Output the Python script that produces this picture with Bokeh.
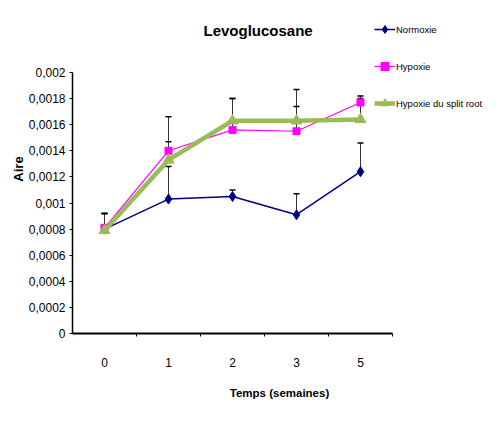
from bokeh.plotting import figure
from bokeh.models import (Range1d, FixedTicker, CustomJSTickFormatter, Legend, LegendItem,
                          Whisker, TeeHead, ColumnDataSource, Label)
from bokeh.embed import file_html
from bokeh.resources import INLINE

weeks = ["0", "1", "2", "3", "5"]
normoxie = [0.00080, 0.00103, 0.00105, 0.00091, 0.00124]
normoxie_err = [0.00012, 0.00025, 0.00005, 0.00016, 0.00022]
hypoxie = [0.00081, 0.00140, 0.00156, 0.00155, 0.00177]
hypoxie_err = [0.00011, 0.00026, 0.00024, 0.00032, 0.00005]
split_root = [0.00079, 0.00133, 0.00163, 0.00163, 0.00164]
split_root_err = [0.00013, 0.00014, 0.00017, 0.00011, 0.00016]
y_ticks = [0, 0.0002, 0.0004, 0.0006, 0.0008, 0.001, 0.0012, 0.0014, 0.0016, 0.0018, 0.002]
y_max = 0.002

FONT = "Liberation Sans"

n = len(weeks)
xs = [i + 0.5 for i in range(n)]

# frame is larger than the axes so that title and legend sit inside it
FW, FH = 414, 329          # frame size in px
AX_W, AX_H = 320, 261      # drawn axes size in px
p = figure(frame_width=FW, frame_height=FH, min_border_left=72, min_border_right=0,
           min_border_top=4, min_border_bottom=83, output_backend="svg",
           toolbar_location=None,
           x_range=Range1d(0, n * FW / AX_W), y_range=Range1d(0, y_max * FH / AX_H))
p.outline_line_color = None
p.grid.visible = False
p.background_fill_color = "white"
p.border_fill_color = "white"

# x axis
p.xaxis.bounds = (0, n)
p.xaxis.ticker = FixedTicker(ticks=xs, minor_ticks=[i + 1 for i in range(n)])
p.xaxis.major_label_overrides = {x: w for x, w in zip(xs, weeks)}
p.xaxis.major_tick_line_color = None
p.xaxis.major_tick_out = 0
p.xaxis.major_tick_in = 0
p.xaxis.minor_tick_line_color = "black"
p.xaxis.minor_tick_out = 3
p.xaxis.minor_tick_in = 0
p.xaxis.axis_line_width = 2
p.xaxis.axis_line_color = "black"
p.xaxis.major_label_standoff = 21
p.xaxis.major_label_text_font = FONT
p.xaxis.major_label_text_font_size = "12px"
p.xaxis.major_label_text_color = "black"
p.xaxis.axis_label = "Temps (semaines)"
p.xaxis.axis_label_text_font = FONT
p.xaxis.axis_label_text_font_style = "bold"
p.xaxis.axis_label_text_font_size = "11.5px"
p.xaxis.axis_label_text_color = "black"
p.xaxis.axis_label_standoff = 17

# y axis
p.yaxis.bounds = (0, y_max)
p.yaxis.ticker = FixedTicker(ticks=y_ticks)
p.yaxis.formatter = CustomJSTickFormatter(code="return tick.toString().replace('.', ',');")
p.yaxis.major_tick_out = 3
p.yaxis.major_tick_in = 0
p.yaxis.minor_tick_line_color = None
p.yaxis.axis_line_color = "black"
p.yaxis.axis_line_width = 1.5
p.yaxis.major_label_standoff = 4
p.yaxis.major_label_text_font = FONT
p.yaxis.major_label_text_font_size = "12px"
p.yaxis.major_label_text_color = "black"
p.yaxis.axis_label = "Aire"
p.yaxis.axis_label_text_font = FONT
p.yaxis.axis_label_text_font_style = "bold"
p.yaxis.axis_label_text_font_size = "13px"
p.yaxis.axis_label_text_color = "black"
p.yaxis.axis_label_standoff = 0

# error bars
for vals, errs in [(normoxie, normoxie_err), (hypoxie, hypoxie_err), (split_root, split_root_err)]:
    src = ColumnDataSource(dict(x=xs, lower=vals, upper=[v + e for v, e in zip(vals, errs)]))
    w = Whisker(base="x", lower="lower", upper="upper", source=src, level="underlay",
                line_color="#333333", line_width=1,
                upper_head=TeeHead(size=6, line_color="black", line_width=1.5),
                lower_head=None)
    p.add_layout(w)

l1 = p.line(xs, normoxie, line_color="#000080", line_width=1.5)
s1 = p.scatter(xs, normoxie, marker="diamond", size=10, fill_color="#000080", line_color="#000080")
l2 = p.line(xs, hypoxie, line_color="#FF00FF", line_width=1.2)
s2 = p.scatter(xs, hypoxie, marker="square", size=7, fill_color="#FF00FF", line_color="#FF00FF")
l3 = p.line(xs, split_root, line_color="#9BBB59", line_width=4.5)
s3 = p.scatter(xs, split_root, marker="triangle", size=11, fill_color="#9BBB59", line_color="#9BBB59")

legend = Legend(items=[LegendItem(label="Normoxie", renderers=[l1, s1]),
                       LegendItem(label="Hypoxie", renderers=[l2, s2]),
                       LegendItem(label="Hypoxie du split root", renderers=[l3, s3])],
                location=(302, 220), padding=0, margin=0, spacing=17,
                glyph_width=21, glyph_height=20, label_height=20, label_standoff=1,
                label_text_font=FONT, label_text_font_size="9.5px",
                label_text_color="black", border_line_color=None,
                background_fill_alpha=0)
p.add_layout(legend, "center")

title = Label(x=2.9, y=0.00232, text="Levoglucosane", text_align="center",
              text_baseline="alphabetic", text_font=FONT, text_font_style="bold",
              text_font_size="15px", text_color="black")
p.add_layout(title)

open("out.html", "w").write(file_html(p, INLINE))
